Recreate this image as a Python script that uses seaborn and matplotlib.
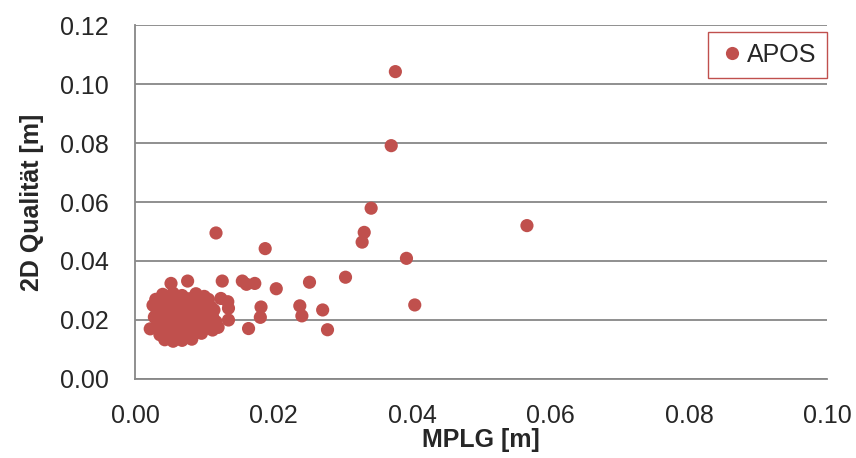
import numpy as np
import pandas as pd
import matplotlib
matplotlib.use('Agg')
import matplotlib.pyplot as plt
from matplotlib.ticker import FormatStrFormatter, MultipleLocator
import seaborn as sns

# ── DATA ────────────────────────────────────────────────────
# scattered points outside the dense cluster
outer_x = [0.0376, 0.0370, 0.0341, 0.0331, 0.0328, 0.0566, 0.0392, 0.0252,
           0.0304, 0.0404, 0.0238, 0.0241, 0.0271, 0.0278, 0.0188, 0.0117,
           0.0076, 0.0052, 0.0126, 0.0155, 0.0161, 0.0173, 0.0204, 0.0182,
           0.0181, 0.0164, 0.0135, 0.0135, 0.0134, 0.0124, 0.0120]
outer_y = [0.1042, 0.0791, 0.0579, 0.0497, 0.0464, 0.0520, 0.0409, 0.0328,
           0.0345, 0.0251, 0.0248, 0.0214, 0.0234, 0.0167, 0.0442, 0.0495,
           0.0332, 0.0324, 0.0332, 0.0332, 0.0321, 0.0324, 0.0306, 0.0244,
           0.0209, 0.0171, 0.0200, 0.0240, 0.0262, 0.0273, 0.0175]

# dense cluster near the origin
cluster_x = [0.0040, 0.0055, 0.0068, 0.0088, 0.0100,
             0.0030, 0.0047, 0.0062, 0.0078, 0.0094, 0.0106,
             0.0026, 0.0038, 0.0050, 0.0063, 0.0074, 0.0085, 0.0097, 0.0110,
             0.0032, 0.0044, 0.0056, 0.0069, 0.0081, 0.0092, 0.0104, 0.0114,
             0.0028, 0.0040, 0.0052, 0.0064, 0.0076, 0.0088, 0.0100, 0.0112,
             0.0033, 0.0046, 0.0058, 0.0070, 0.0082, 0.0095, 0.0108, 0.0117,
             0.0022, 0.0036, 0.0049, 0.0061, 0.0073, 0.0086, 0.0099, 0.0112,
             0.0036, 0.0048, 0.0060, 0.0072, 0.0084, 0.0096,
             0.0043, 0.0055, 0.0068, 0.0082]
cluster_y = [0.0287, 0.0291, 0.0283, 0.0289, 0.0280,
             0.0270, 0.0274, 0.0268, 0.0272, 0.0266, 0.0270,
             0.0250, 0.0254, 0.0248, 0.0252, 0.0246, 0.0251, 0.0249, 0.0244,
             0.0231, 0.0228, 0.0233, 0.0229, 0.0232, 0.0227, 0.0230, 0.0234,
             0.0210, 0.0213, 0.0208, 0.0212, 0.0209, 0.0214, 0.0207, 0.0211,
             0.0190, 0.0193, 0.0188, 0.0192, 0.0189, 0.0191, 0.0186, 0.0194,
             0.0170, 0.0172, 0.0168, 0.0171, 0.0167, 0.0173, 0.0169, 0.0166,
             0.0150, 0.0148, 0.0152, 0.0149, 0.0151, 0.0155,
             0.0133, 0.0128, 0.0131, 0.0135]

df = pd.DataFrame({
    "MPLG": outer_x + cluster_x,
    "Q2D": outer_y + cluster_y,
    "Serie": "APOS",
})

# ── STYLE ───────────────────────────────────────────────────
sns.set_style("white")
plt.rcParams['font.family'] = ['Liberation Sans', 'DejaVu Sans']
plt.rcParams['font.size'] = 18

RED = "#C0504D"
GRID = "#878787"

fig = plt.figure(figsize=(8.56, 4.58), dpi=100)
ax = fig.add_axes([0.1577, 0.1725, 0.8090, 0.7729])

sns.scatterplot(data=df, x="MPLG", y="Q2D", hue="Serie", palette=[RED],
                s=90, linewidth=0, ax=ax, zorder=3)

ax.set_xlim(0, 0.10)
ax.set_ylim(0, 0.12)
ax.xaxis.set_major_locator(MultipleLocator(0.02))
ax.yaxis.set_major_locator(MultipleLocator(0.02))
ax.xaxis.set_major_formatter(FormatStrFormatter('%.2f'))
ax.yaxis.set_major_formatter(FormatStrFormatter('%.2f'))

ax.grid(axis='y', color=GRID, linewidth=1.3)
ax.set_axisbelow(True)
for side in ['top', 'right']:
    ax.spines[side].set_visible(False)
for side in ['left', 'bottom']:
    ax.spines[side].set_color(GRID)
    ax.spines[side].set_linewidth(1.3)

ax.tick_params(axis='both', which='major', direction='out', length=6,
               width=1.3, color=GRID, labelsize=18)
ax.tick_params(axis='x', pad=12)
ax.tick_params(axis='y', pad=13)

ax.set_xlabel("MPLG [m]", fontsize=18, fontweight='bold', labelpad=0)
ax.set_ylabel("2D Qualität [m]", fontsize=18, fontweight='bold', labelpad=11)

leg = ax.legend(loc='upper right', bbox_to_anchor=(1.0, 0.981),
                borderaxespad=0, frameon=True, fancybox=False,
                handletextpad=0.1, handlelength=1.0, borderpad=0.45,
                fontsize=18, markerscale=1.0)
leg.get_frame().set_edgecolor(RED)
leg.get_frame().set_linewidth(1.0)
leg.get_frame().set_alpha(1)

fig.savefig("out.png", dpi=100, facecolor='white')
